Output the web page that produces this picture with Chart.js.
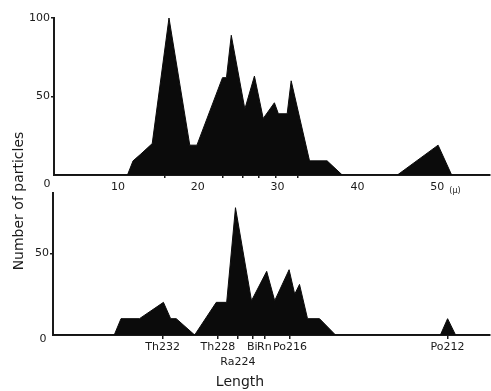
<!DOCTYPE html>
<html>
<head>
<meta charset="utf-8">
<script src="https://cdn.jsdelivr.net/npm/chart.js@4"></script>
<style>
  body { margin: 0; background: #fff; }
  #wrap { position: relative; width: 491px; height: 391px; font-family: "DejaVu Sans", sans-serif; color: #1a1a1a; }
  canvas { position: absolute; left: 0; }
  #top { top: 0; }
  #bottom { top: 185px; }
  .lbl { position: absolute; line-height: 1; transform: translate(-50%, -50%); white-space: nowrap; }
  .ytitle { transform: translate(-50%, -50%) rotate(-90deg); }
</style>
</head>
<body>
<div id="wrap">
  <canvas id="top" width="491" height="200"></canvas>
  <canvas id="bottom" width="491" height="206"></canvas>
  <span class="lbl" style="left:47px; top:183px; font-size:11px">0</span>
  <span class="lbl" style="left:43px; top:338px; font-size:11px">0</span>
  <span class="lbl" style="left:455px; top:191px; font-size:8px">(μ)</span>
  <span class="lbl ytitle" style="left:18px; top:201px; font-size:14px">Number of particles</span>
  <span class="lbl" style="left:240px; top:381px; font-size:14px">Length</span>
</div>
<script>
// upper histogram (length in microns vs count)
const topLength = [2, 11.2, 11.9, 12.8, 14.3, 16.4, 19.0, 19.9, 23.1, 23.6, 24.2, 25.9, 27.1, 28.2, 29.6, 30.1, 31.2, 31.7, 34.0, 36.2, 38.1, 45.0, 50.1, 51.8, 56.6]
const topCount  = [0, 0, 9, 13, 20, 100, 19, 19, 62, 62, 89, 42, 63, 36, 46, 39, 39, 60, 9, 9, 0, 0, 19, 0, 0]
const topTicks = [10, 20, 30, 40, 50]
// unlabelled marks under the upper axis
const topMarks = [15.9, 23.1, 25.6, 27.6, 29.8, 32.5]

// lower histogram
const bottomLength = [2, 9.65, 10.5, 12.8, 15.8, 16.7, 17.4, 19.7, 22.4, 23.7, 24.8, 26.8, 28.7, 29.7, 31.5, 32.2, 32.8, 33.8, 35.3, 37.3, 50.4, 51.3, 52.3, 56.6]
const bottomCount  = [0, 0, 10, 10, 20, 10, 10, 0, 20, 20, 78, 21, 39, 21, 40, 25, 31, 10, 10, 0, 0, 10, 0, 0]

// nuclide markers on the lower axis
const nuclidePos   = [15.7, 22.6, 25.1, 26.9, 28.4, 31.6, 51.3]
const nuclideNames = ['Th232', 'Th228', 'Ra224', 'Bi', 'Rn', 'Po216', 'Po212']

const ink = '#1a1a1a'
const tickFont = { family: 'DejaVu Sans', size: 11 }

function area(xs, ys) {
  return {
    data: xs.map((x, i) => ({ x: x, y: ys[i] })),
    backgroundColor: '#0b0b0b',
    borderColor: '#0b0b0b',
    borderWidth: 1,
    fill: 'origin',
    pointRadius: 0,
    tension: 0
  }
}

new Chart(document.getElementById('top'), {
  type: 'line',
  data: { datasets: [area(topLength, topCount)] },
  options: {
    responsive: false,
    animation: false,
    devicePixelRatio: 1,
    layout: { padding: { top: 18, right: 1, left: 0, bottom: 0 } },
    plugins: { legend: { display: false }, tooltip: { enabled: false } },
    scales: {
      x: {
        type: 'linear',
        min: 2,
        max: 56.6,
        afterFit: (s) => { s.height = 25 },
        afterBuildTicks: (s) => {
          s.ticks = topTicks.concat(topMarks).sort((a, b) => a - b).map(v => ({ value: v }))
        },
        ticks: {
          font: tickFont, color: ink, padding: 3, maxRotation: 0, autoSkip: false,
          callback: (v) => topTicks.includes(v) ? String(v) : ''
        },
        grid: {
          drawOnChartArea: false, drawTicks: true, tickLength: 3, lineWidth: 1.5,
          color: (c) => c.tick && topMarks.includes(c.tick.value) ? ink : 'rgba(0,0,0,0)'
        },
        border: { color: ink, width: 2 }
      },
      y: {
        min: 0,
        max: 100,
        afterFit: (s) => { s.width = 54 },
        afterBuildTicks: (s) => { s.ticks = [50, 100].map(v => ({ value: v })) },
        ticks: { font: tickFont, color: ink, padding: 1 },
        grid: { drawOnChartArea: false, drawTicks: true, tickLength: 3, color: ink, lineWidth: 1.5 },
        border: { color: ink, width: 2 }
      }
    }
  }
})

new Chart(document.getElementById('bottom'), {
  type: 'line',
  data: { datasets: [area(bottomLength, bottomCount)] },
  options: {
    responsive: false,
    animation: false,
    devicePixelRatio: 1,
    layout: { padding: { top: 8, right: 1, left: 0, bottom: 0 } },
    plugins: { legend: { display: false }, tooltip: { enabled: false } },
    scales: {
      x: {
        type: 'linear',
        min: 2,
        max: 56.6,
        afterFit: (s) => { s.height = 56 },
        afterBuildTicks: (s) => { s.ticks = nuclidePos.map(v => ({ value: v })) },
        ticks: {
          font: { family: 'DejaVu Sans', size: 11, lineHeight: 1.4 },
          color: ink,
          padding: 0,
          maxRotation: 0,
          autoSkip: false,
          callback: (v, i) => nuclideNames[i] === 'Ra224' ? ['', 'Ra224'] : nuclideNames[i]
        },
        grid: { drawOnChartArea: false, drawTicks: true, tickLength: 4, color: ink, lineWidth: 1.5 },
        border: { color: ink, width: 2 }
      },
      y: {
        min: 0,
        max: 87,
        afterFit: (s) => { s.width = 53 },
        afterBuildTicks: (s) => { s.ticks = [{ value: 50 }] },
        ticks: { font: tickFont, color: ink, padding: 1 },
        grid: { drawOnChartArea: false, drawTicks: true, tickLength: 3, color: ink, lineWidth: 1.5 },
        border: { color: ink, width: 2 }
      }
    }
  }
})
</script>
</body>
</html>
